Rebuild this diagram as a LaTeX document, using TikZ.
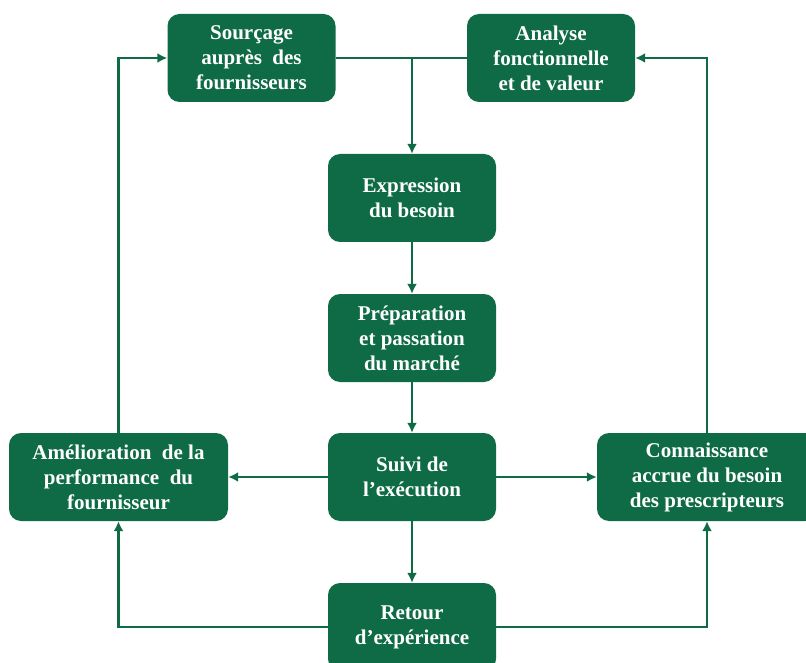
\documentclass[tikz,border=0pt]{standalone}
\usepackage{fontspec}
\setmainfont{Liberation Serif}
\usetikzlibrary{arrows.meta}
\definecolor{vertfonce}{HTML}{0E6B45}

\begin{document}
\begin{tikzpicture}[x=1pt,y=-1pt,
    etape/.style={fill=vertfonce, text=white, rounded corners=12pt,
      minimum width=168pt, minimum height=88pt, align=center, inner sep=2pt,
      font=\bfseries\fontsize{21}{25}\selectfont},
    etapelarge/.style={etape, minimum width=220pt},
    lien/.style={draw=vertfonce, line width=2.8pt},
    fleche/.style={lien, -{Latex[length=10pt,width=10pt]}}]%
        \useasboundingbox (0,0) rectangle (806,663);
        \node[etape] (sourcage) at (251.5,58) {Sourçage\\auprès\ \ des\\fournisseurs};
        \node[etape] (analyse) at (551,58) {Analyse\\fonctionnelle\\et de valeur};
        \node[etape] (besoin) at (412,198) {Expression\\du besoin};
        \node[etape] (marche) at (412,338) {Préparation\\et passation\\du marché};
        \node[etape] (suivi) at (412,477) {Suivi de\\l'exécution};
        \node[etape] (retour) at (412,627) {Retour\\d'expérience};
        \node[etapelarge, minimum width=219pt] (amelioration) at (118.5,477)
          {Amélioration\ \ de la\\performance\ \ du\\fournisseur};
        \node[etapelarge] (connaissance) at (707,477)
          {Connaissance\\accrue du besoin\\des prescripteurs};
        \draw[lien] (sourcage) -- (analyse);
        \draw[fleche] (sourcage.east -| besoin.north) -- (besoin);
        \draw[fleche] (besoin) -- (marche);
        \draw[fleche] (marche) -- (suivi);
        \draw[fleche] (suivi) -- (retour);
        \draw[fleche] (suivi) -- (amelioration);
        \draw[fleche] (suivi) -- (connaissance);
        \draw[fleche] (retour.west) -| (amelioration);
        \draw[fleche] (retour.east) -| (connaissance);
        \draw[fleche] (amelioration) |- (sourcage);
        \draw[fleche] (connaissance) |- (analyse);
\end{tikzpicture}
\end{document}
